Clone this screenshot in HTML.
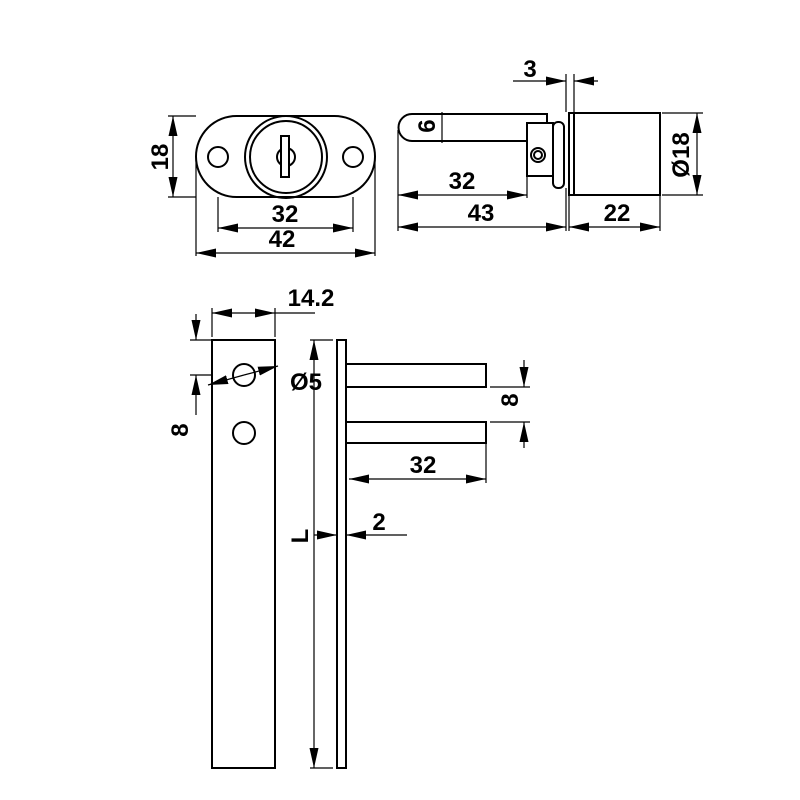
<!DOCTYPE html>
<html><head><meta charset="utf-8"><style>html,body{margin:0;background:#fff}svg{display:block}</style></head><body>
<svg width="800" height="800" viewBox="0 0 800 800" xmlns="http://www.w3.org/2000/svg">
<defs>
<marker id="a" markerUnits="userSpaceOnUse" markerWidth="20" markerHeight="10" refX="20" refY="5" orient="auto"><path d="M0,0.5 L20,5 L0,9.5 z" fill="#000"/></marker>
</defs>
<g fill="none" stroke="#000" stroke-width="2">
<rect x="196" y="116" width="179" height="81" rx="40.5" ry="40.5"/>
<circle cx="218" cy="157" r="10"/>
<circle cx="353" cy="157" r="10"/>
<circle cx="286" cy="157" r="41"/>
<circle cx="286" cy="157" r="36"/>
<circle cx="286" cy="157" r="9"/>
<rect x="281" y="136" width="8" height="41" fill="#fff"/>
<path d="M412,114 L547,114 L547,122 M412,141 L527,141 M412,114 A13.5,13.5 0 0 0 412,141"/>
<rect x="527" y="123" width="26" height="53"/>
<circle cx="538" cy="155" r="7"/>
<circle cx="538" cy="155" r="4"/>
<rect x="553" y="122" width="11" height="66" rx="5"/>
<rect x="569" y="113" width="91" height="82"/>
<line x1="574" y1="113" x2="574" y2="195"/>
<rect x="212" y="340" width="63" height="428"/>
<circle cx="244" cy="375" r="11"/>
<circle cx="244" cy="433" r="11"/>
<rect x="337" y="340" width="9" height="428"/>
<rect x="346" y="364" width="140" height="23"/>
<rect x="346" y="422" width="140" height="21"/>
</g>
<g fill="none" stroke="#000" stroke-width="1.2">
<line x1="168" y1="116" x2="196" y2="116"/><line x1="168" y1="197" x2="196" y2="197"/>
<line x1="173" y1="157" x2="173" y2="116" marker-end="url(#a)"/><line x1="173" y1="157" x2="173" y2="197" marker-end="url(#a)"/>
<line x1="218" y1="197" x2="218" y2="232"/><line x1="353" y1="197" x2="353" y2="232"/>
<line x1="285" y1="228" x2="218" y2="228" marker-end="url(#a)"/><line x1="285" y1="228" x2="353" y2="228" marker-end="url(#a)"/>
<line x1="196" y1="157" x2="196" y2="256"/><line x1="375" y1="157" x2="375" y2="256"/>
<line x1="285" y1="253" x2="196" y2="253" marker-end="url(#a)"/><line x1="285" y1="253" x2="375" y2="253" marker-end="url(#a)"/>
<line x1="566" y1="74" x2="566" y2="112"/><line x1="574" y1="74" x2="574" y2="112"/>
<line x1="513" y1="81" x2="566" y2="81" marker-end="url(#a)"/><line x1="598" y1="81" x2="574" y2="81" marker-end="url(#a)"/>
<line x1="442" y1="112" x2="442" y2="143"/>
<line x1="662" y1="113" x2="703" y2="113"/><line x1="662" y1="195" x2="703" y2="195"/>
<line x1="697" y1="155" x2="697" y2="113" marker-end="url(#a)"/><line x1="697" y1="155" x2="697" y2="195" marker-end="url(#a)"/>
<line x1="398" y1="130" x2="398" y2="231"/><line x1="527" y1="176" x2="527" y2="198"/>
<line x1="460" y1="195" x2="398" y2="195" marker-end="url(#a)"/><line x1="460" y1="195" x2="527" y2="195" marker-end="url(#a)"/>
<line x1="566" y1="188" x2="566" y2="231"/><line x1="569" y1="195" x2="569" y2="231"/><line x1="660" y1="195" x2="660" y2="231"/>
<line x1="480" y1="227" x2="398" y2="227" marker-end="url(#a)"/><line x1="480" y1="227" x2="566" y2="227" marker-end="url(#a)"/>
<line x1="615" y1="227" x2="569" y2="227" marker-end="url(#a)"/><line x1="615" y1="227" x2="660" y2="227" marker-end="url(#a)"/>
<line x1="212" y1="308" x2="212" y2="337"/><line x1="275" y1="308" x2="275" y2="337"/>
<line x1="243" y1="313" x2="212" y2="313" marker-end="url(#a)"/><line x1="243" y1="313" x2="275" y2="313" marker-end="url(#a)"/><line x1="275" y1="313" x2="315" y2="313"/>
<line x1="190" y1="340" x2="212" y2="340"/><line x1="190" y1="375" x2="212" y2="375"/>
<line x1="196" y1="314" x2="196" y2="340" marker-end="url(#a)"/><line x1="196" y1="415" x2="196" y2="375" marker-end="url(#a)"/>
<line x1="244" y1="375" x2="208" y2="385" marker-end="url(#a)"/><line x1="244" y1="375" x2="278" y2="366" marker-end="url(#a)"/>
<line x1="310" y1="340" x2="333" y2="340"/><line x1="310" y1="768" x2="333" y2="768"/>
<line x1="314" y1="540" x2="314" y2="340" marker-end="url(#a)"/><line x1="314" y1="540" x2="314" y2="768" marker-end="url(#a)"/>
<line x1="490" y1="387" x2="530" y2="387"/><line x1="490" y1="422" x2="530" y2="422"/>
<line x1="524" y1="360" x2="524" y2="387" marker-end="url(#a)"/><line x1="524" y1="448" x2="524" y2="422" marker-end="url(#a)"/>
<line x1="486" y1="443" x2="486" y2="483"/>
<line x1="418" y1="479" x2="349" y2="479" marker-end="url(#a)"/><line x1="418" y1="479" x2="486" y2="479" marker-end="url(#a)"/>
<line x1="314" y1="535" x2="337" y2="535" marker-end="url(#a)"/><line x1="407" y1="535" x2="346" y2="535" marker-end="url(#a)"/>
</g>
<g font-family="Liberation Sans, sans-serif" font-weight="bold" font-size="24" fill="#000" text-anchor="middle">
<text x="160" y="157" transform="rotate(-90 160 157)" dy="8">18</text>
<text x="285" y="222">32</text>
<text x="282" y="247">42</text>
<text x="530" y="77">3</text>
<text x="427" y="126" transform="rotate(-90 427 126)" dy="8">6</text>
<text x="681" y="155" transform="rotate(-90 681 155)" dy="8">Ø18</text>
<text x="462" y="189">32</text>
<text x="481" y="221">43</text>
<text x="617" y="221">22</text>
<text x="311" y="306">14.2</text>
<text x="180" y="430" transform="rotate(-90 180 430)" dy="8">8</text>
<text x="306" y="390">Ø5</text>
<text x="300" y="536" transform="rotate(-90 300 536)" dy="8">L</text>
<text x="510" y="400" transform="rotate(-90 510 400)" dy="8">8</text>
<text x="423" y="473">32</text>
<text x="379" y="530">2</text>
</g>
</svg>
</body></html>
